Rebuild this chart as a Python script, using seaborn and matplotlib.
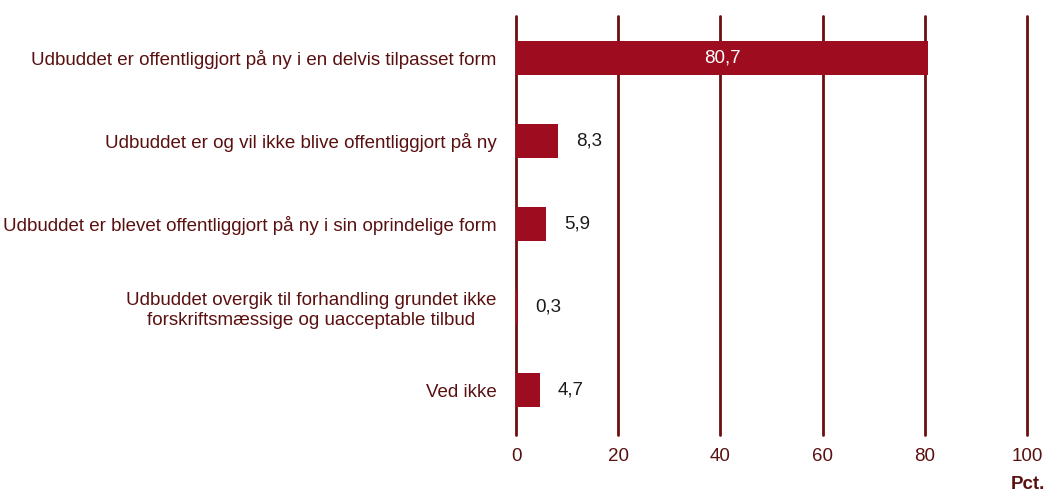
import pandas as pd
import matplotlib.pyplot as plt
import seaborn as sns

# survey answers (pct.)
categories = [
    "Udbuddet er offentliggjort på ny i en delvis tilpasset form",
    "Udbuddet er og vil ikke blive offentliggjort på ny",
    "Udbuddet er blevet offentliggjort på ny i sin oprindelige form",
    "Udbuddet overgik til forhandling grundet ikke\nforskriftsmæssige og uacceptable tilbud",
    "Ved ikke",
]
values = [80.7, 8.3, 5.9, 0.3, 4.7]
xticks = [0, 20, 40, 60, 80, 100]

df = pd.DataFrame({"kategori": categories, "pct": values})

sns.set_style("white")
plt.rcParams['font.family'] = ['Liberation Sans', 'DejaVu Sans']

bar_col = '#9E0C1F'
grid_col = '#6E0E0E'
lab_col = '#5A1010'
fs = 13.5

fig = plt.figure(figsize=(10.48, 4.99), dpi=100)
ax = fig.add_axes([0.4924, 0.128, 0.4876, 0.84])

sns.barplot(data=df, x="pct", y="kategori", color=bar_col, width=0.41,
            saturation=1, linewidth=0, ax=ax, zorder=3)

ax.set_xlim(0, 100)
ax.set_ylim(4.54, -0.5)
ax.set_xticks(xticks)
ax.set_xticklabels([str(t) for t in xticks], fontsize=fs, color=lab_col)
ax.tick_params(axis='x', length=0, pad=9)
ax.tick_params(axis='y', length=0, pad=14)
for t in ax.get_yticklabels():
    t.set_fontsize(fs)
    t.set_color(lab_col)
    t.set_multialignment('center')
ax.set_xlabel('')
ax.set_ylabel('')
for s in ax.spines.values():
    s.set_visible(False)
for t in xticks:
    ax.axvline(t, color=grid_col, linewidth=2, zorder=1, clip_on=False)

for i, v in enumerate(values):
    txt = f"{v:.1f}".replace('.', ',')
    if v > 50:
        ax.text(v / 2, i, txt, color='white', fontsize=fs, ha='center', va='center', zorder=4)
    else:
        ax.annotate(txt, (v, i), xytext=(13, 0), textcoords='offset points',
                    color='#1a1a1a', fontsize=fs, ha='left', va='center')

fig.text(0.997, 0.012, 'Pct.', fontsize=fs, fontweight='bold', color=lab_col,
         ha='right', va='bottom')

plt.savefig('out.png', dpi=100)
